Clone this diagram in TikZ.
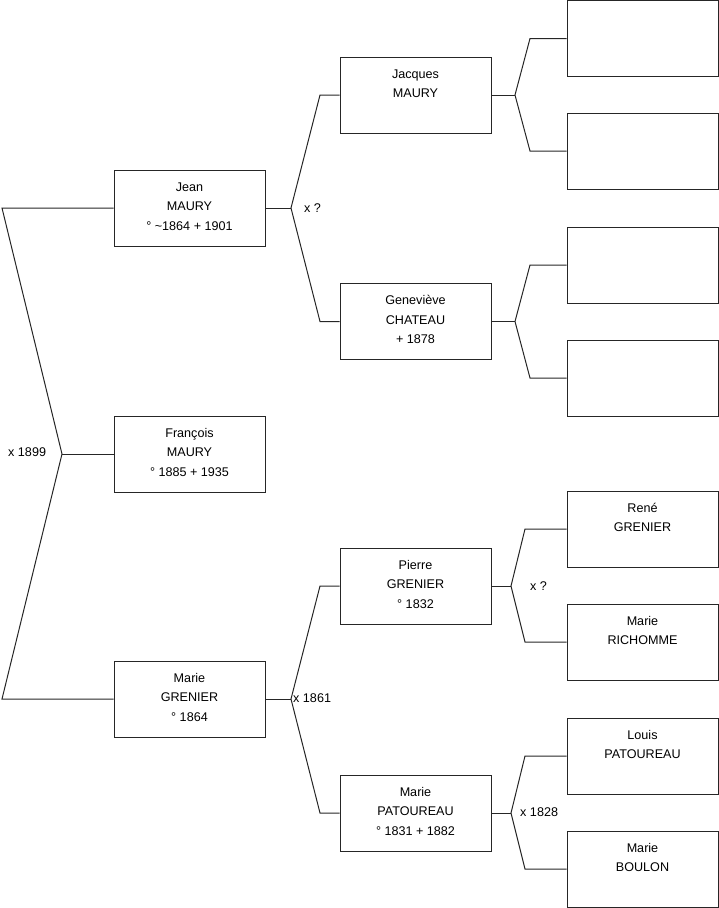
\documentclass[tikz,border=0pt]{standalone}
\usepackage{fontspec}
\setmainfont{Liberation Sans}
\begin{document}
\begin{tikzpicture}[x=1pt,y=-1pt,
  pbox/.style={draw=black!85,line width=1pt,minimum width=151pt,minimum height=76pt,inner sep=0pt},
  ptext/.style={anchor=base,align=center,inner sep=0pt,font=\fontsize{12.6}{19.4}\selectfont},
  three/.style={yshift=-60.5pt},
  two/.style={yshift=-41.1pt},
  mlabel/.style={anchor=west,inner sep=0pt,font=\fontsize{12.6}{15}\selectfont},
  link/.style={draw=black!85,line width=1pt}]
\useasboundingbox (0,0) rectangle (719,908);
% level 1
\node[pbox] (jean) at (189.5,208) {};
\node[pbox] (francois) at (189.5,454) {};
\node[pbox] (marie) at (189.5,699) {};
% level 2
\node[pbox] (jacques) at (415.5,95) {};
\node[pbox] (genevieve) at (415.5,321.5) {};
\node[pbox] (pierre) at (415.5,586) {};
\node[pbox] (mariep) at (415.5,813) {};
% level 3
\node[pbox] (a1) at (642.5,38.5) {};
\node[pbox] (a2) at (642.5,151) {};
\node[pbox] (a3) at (642.5,265) {};
\node[pbox] (a4) at (642.5,378) {};
\node[pbox] (rene) at (642.5,529) {};
\node[pbox] (richomme) at (642.5,642) {};
\node[pbox] (louis) at (642.5,756) {};
\node[pbox] (boulon) at (642.5,869) {};
% texts
\node[ptext,three] (jeanT) at (jean.north) {Jean\\MAURY\\° \textasciitilde1864 + 1901};
\node[ptext,three] (francoisT) at (francois.north) {François\\MAURY\\° 1885 + 1935};
\node[ptext,three] (marieT) at (marie.north) {Marie\\GRENIER\\° 1864};
\node[ptext,two] (jacquesT) at (jacques.north) {Jacques\\MAURY};
\node[ptext,three] (genevieveT) at (genevieve.north) {Geneviève\\CHATEAU\\+ 1878};
\node[ptext,three] (pierreT) at (pierre.north) {Pierre\\GRENIER\\° 1832};
\node[ptext,three] (mariepT) at (mariep.north) {Marie\\PATOUREAU\\° 1831 + 1882};
\node[ptext,two] (reneT) at (rene.north) {René\\GRENIER};
\node[ptext,two] (richommeT) at (richomme.north) {Marie\\RICHOMME};
\node[ptext,two] (louisT) at (louis.north) {Louis\\PATOUREAU};
\node[ptext,two] (boulonT) at (boulon.north) {Marie\\BOULON};
% junction points
\coordinate (r0) at (2,208);
\coordinate (rv) at (62,454);
\coordinate (r1) at (2,699);
\coordinate (jv) at (291,208);
\coordinate (jc1) at (320,95);
\coordinate (jc2) at (320,321.5);
\coordinate (mv) at (291,699);
\coordinate (mc1) at (320,586);
\coordinate (mc2) at (320,813);
\coordinate (qv) at (515,95);
\coordinate (qc1) at (530,38.5);
\coordinate (qc2) at (530,151);
\coordinate (gv) at (515,321.5);
\coordinate (gc1) at (530,265);
\coordinate (gc2) at (530,378);
\coordinate (pv) at (511,586);
\coordinate (pc1) at (525,529);
\coordinate (pc2) at (525,642);
\coordinate (ov) at (511,813);
\coordinate (oc1) at (525,756);
\coordinate (oc2) at (525,869);
% connectors
\draw[link] (jean.west) -- (r0) -- (rv) -- (r1) -- (marie.west);
\draw[link] (rv) -- (francois.west);
\draw[link] (jean.east) -- (jv);
\draw[link] (jacques.west) -- (jc1) -- (jv) -- (jc2) -- (genevieve.west);
\draw[link] (marie.east) -- (mv);
\draw[link] (pierre.west) -- (mc1) -- (mv) -- (mc2) -- (mariep.west);
\draw[link] (jacques.east) -- (qv);
\draw[link] (a1.west) -- (qc1) -- (qv) -- (qc2) -- (a2.west);
\draw[link] (genevieve.east) -- (gv);
\draw[link] (a3.west) -- (gc1) -- (gv) -- (gc2) -- (a4.west);
\draw[link] (pierre.east) -- (pv);
\draw[link] (rene.west) -- (pc1) -- (pv) -- (pc2) -- (richomme.west);
\draw[link] (mariep.east) -- (ov);
\draw[link] (louis.west) -- (oc1) -- (ov) -- (oc2) -- (boulon.west);
% marriage labels
\node[mlabel] (m1899) at (8,452.5) {x 1899};
\node[mlabel] (mjean) at (304,208) {x ?};
\node[mlabel] (m1861) at (293,698.5) {x 1861};
\node[mlabel] (mpierre) at (530,586) {x ?};
\node[mlabel] (m1828) at (520,812.5) {x 1828};
\end{tikzpicture}
\end{document}
